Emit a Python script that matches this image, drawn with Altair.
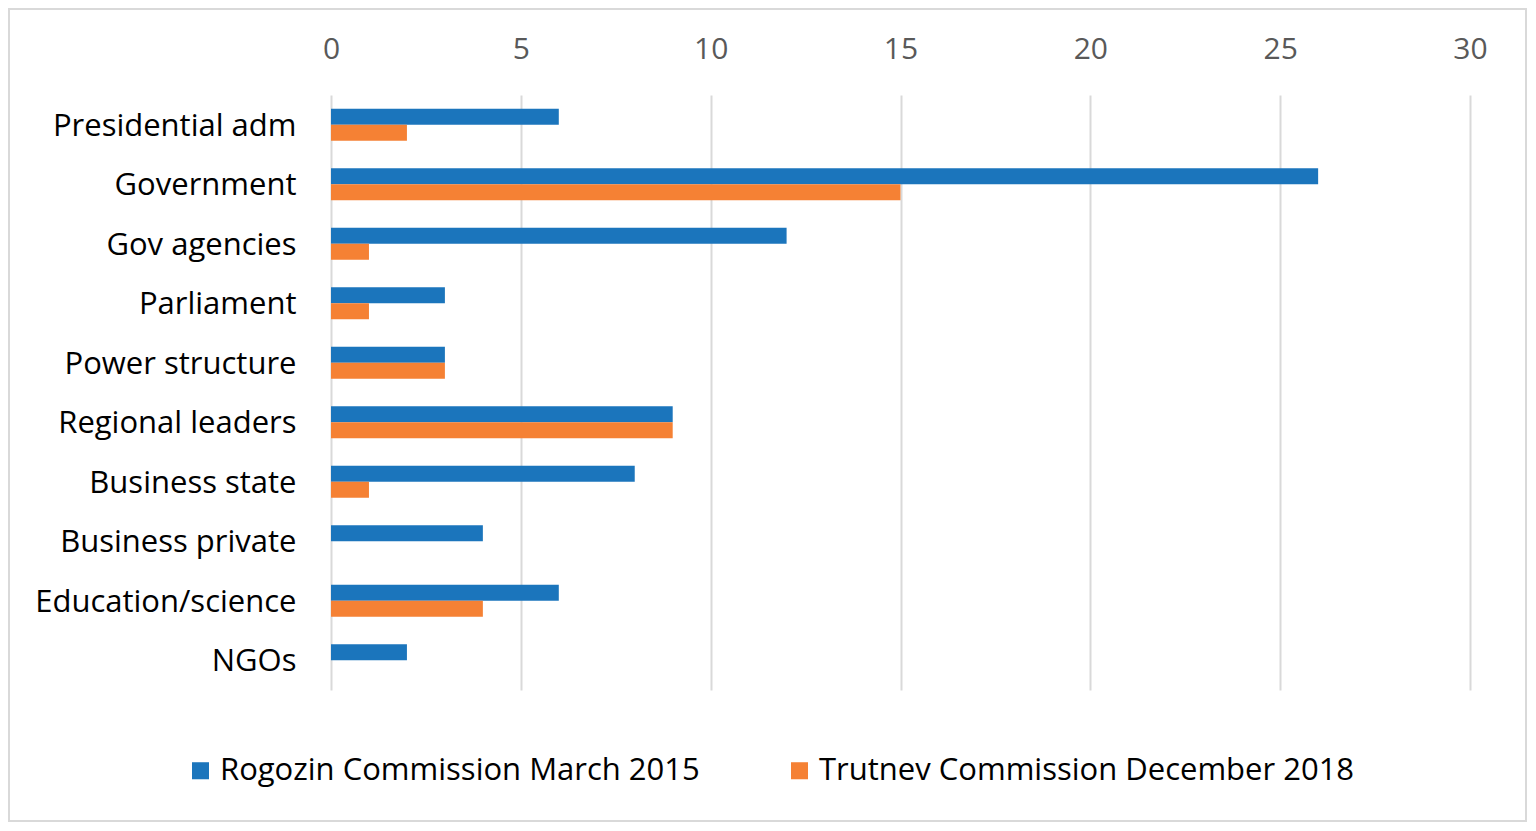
import altair as alt
import pandas as pd

categories = ["Presidential adm", "Government", "Gov agencies", "Parliament",
              "Power structure", "Regional leaders", "Business state",
              "Business private", "Education/science", "NGOs"]
rogozin = [6, 26, 12, 3, 3, 9, 8, 4, 6, 2]
trutnev = [2, 15, 1, 1, 3, 9, 1, 0, 4, 0]
series = ["Rogozin Commission March 2015", "Trutnev Commission December 2018"]
colors = ["#1B75BC", "#F58134"]
ticks = [0, 5, 10, 15, 20, 25, 30]

rows = []
for c, r, t in zip(categories, rogozin, trutnev):
    rows.append({"category": c, "series": series[0], "value": r})
    rows.append({"category": c, "series": series[1], "value": t})
df = pd.DataFrame(rows)

FONT = "Open Sans"

bars = alt.Chart(df).mark_bar().encode(
    y=alt.Y("category:N", sort=categories,
            scale=alt.Scale(paddingInner=0.46, paddingOuter=0.23),
            axis=alt.Axis(title=None, domain=False, ticks=False, labelFontSize=31,
                          labelColor="#000000", labelPadding=35, labelFont=FONT,
                          labelLimit=400, labelOffset=2)),
    yOffset=alt.YOffset("series:N", sort=series),
    x=alt.X("value:Q", scale=alt.Scale(domain=[0, 30]),
            axis=alt.Axis(orient="top", values=ticks, title=None, domain=False,
                          ticks=False, grid=True, gridColor="#d9d9d9", gridWidth=2,
                          labelColor="#595959", labelFontSize=30, labelPadding=31,
                          labelFont=FONT, labelFlush=False)),
    color=alt.Color("series:N", sort=series,
                    scale=alt.Scale(domain=series, range=colors),
                    legend=alt.Legend(title=None, orient="none", legendX=-146,
                                      legendY=660, direction="horizontal",
                                      symbolType="square", symbolSize=290,
                                      labelFontSize=31, labelFont=FONT,
                                      labelColor="#000000", columnPadding=84,
                                      labelLimit=0, symbolStrokeWidth=0)),
)

frame = alt.Chart(pd.DataFrame({"a": [0]})).mark_rect(
    filled=False, stroke="#d9d9d9", strokeWidth=2
).encode(x=alt.value(-322), x2=alt.value(1195), y=alt.value(-86), y2=alt.value(726))

chart = alt.layer(frame, bars).properties(
    width=1139, height=595,
    padding={"left": 323, "top": 87, "right": 58, "bottom": 132},
    autosize="none",
).configure_view(stroke=None)

chart.save("out.html", embed_options={"renderer": "svg", "actions": False})
